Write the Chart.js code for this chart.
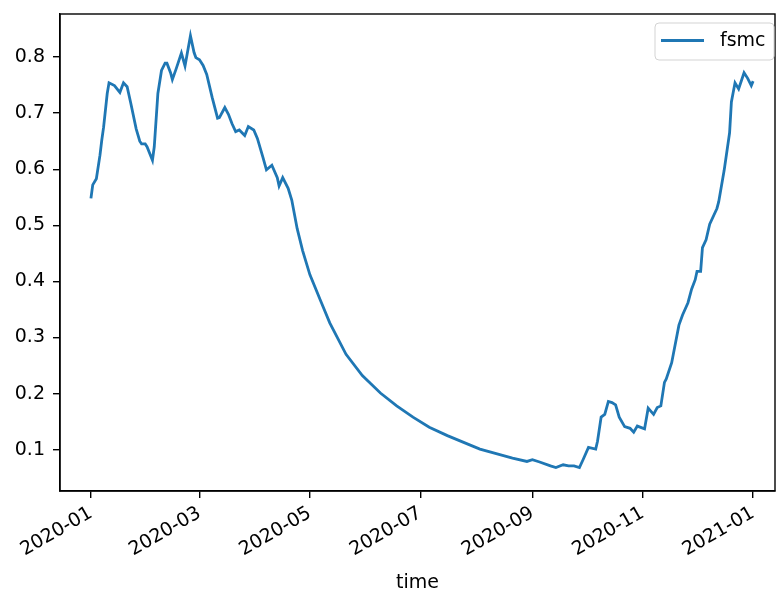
<!DOCTYPE html>
<html>
<head>
<meta charset="utf-8">
<script src="https://cdn.jsdelivr.net/npm/chart.js@4/dist/chart.umd.min.js"></script>
<style>
  html, body { margin: 0; padding: 0; background: #ffffff; }
  #wrap { width: 776px; height: 591px; }
</style>
</head>
<body>
<div id="wrap"><canvas id="c" width="776" height="591"></canvas></div>
<script>
// Observation dates and fuel moisture values (fsmc)
const dates = [
  '2020-01-01','2020-01-02','2020-01-04','2020-01-06','2020-01-07','2020-01-08','2020-01-10','2020-01-11',
  '2020-01-14','2020-01-17','2020-01-19','2020-01-21','2020-01-23','2020-01-26','2020-01-28','2020-01-29',
  '2020-01-31','2020-02-01','2020-02-04','2020-02-05','2020-02-07','2020-02-09','2020-02-11','2020-02-12',
  '2020-02-14','2020-02-15','2020-02-17','2020-02-20','2020-02-22','2020-02-25','2020-02-27','2020-02-28',
  '2020-03-01','2020-03-03','2020-03-05','2020-03-08','2020-03-11','2020-03-12','2020-03-15','2020-03-17',
  '2020-03-19','2020-03-21','2020-03-23','2020-03-26','2020-03-28','2020-03-31','2020-04-02','2020-04-05',
  '2020-04-07','2020-04-10','2020-04-13','2020-04-14','2020-04-16','2020-04-19','2020-04-21','2020-04-24',
  '2020-04-27','2020-05-01','2020-05-07','2020-05-12','2020-05-21','2020-05-30','2020-06-09','2020-06-18',
  '2020-06-27','2020-07-06','2020-07-16','2020-07-25','2020-08-03','2020-08-12','2020-08-21','2020-08-29',
  '2020-09-01','2020-09-05','2020-09-11','2020-09-14','2020-09-18','2020-09-21','2020-09-24','2020-09-27',
  '2020-09-29','2020-10-02','2020-10-06','2020-10-07','2020-10-09','2020-10-11','2020-10-13','2020-10-15',
  '2020-10-17','2020-10-19','2020-10-22','2020-10-25','2020-10-27','2020-10-29','2020-11-02','2020-11-04',
  '2020-11-07','2020-11-09','2020-11-11','2020-11-13','2020-11-14','2020-11-17','2020-11-21','2020-11-23',
  '2020-11-26','2020-11-28','2020-11-30','2020-12-01','2020-12-03','2020-12-04','2020-12-06','2020-12-08',
  '2020-12-12','2020-12-13','2020-12-16','2020-12-19','2020-12-20','2020-12-22','2020-12-24','2020-12-27',
  '2020-12-29','2020-12-31','2021-01-01'
];
const fsmc = [
  0.548,0.572,0.583,0.625,0.652,0.675,0.735,0.754,
  0.749,0.737,0.754,0.747,0.718,0.672,0.650,0.645,
  0.645,0.640,0.616,0.640,0.735,0.776,0.789,0.789,
  0.772,0.760,0.778,0.807,0.784,0.838,0.808,0.799,
  0.795,0.785,0.769,0.728,0.691,0.692,0.710,0.698,
  0.681,0.667,0.670,0.660,0.676,0.670,0.655,0.622,
  0.599,0.607,0.585,0.570,0.585,0.566,0.545,0.494,
  0.455,0.412,0.365,0.326,0.270,0.232,0.201,0.178,
  0.158,0.140,0.125,0.113,0.101,0.093,0.085,0.079,
  0.082,0.078,0.071,0.068,0.073,0.071,0.071,0.068,
  0.082,0.104,0.101,0.115,0.158,0.163,0.186,0.184,
  0.180,0.158,0.141,0.138,0.131,0.142,0.137,0.174,
  0.163,0.175,0.178,0.220,0.226,0.255,0.322,0.340,
  0.362,0.386,0.403,0.418,0.418,0.460,0.474,0.502,
  0.530,0.542,0.598,0.665,0.720,0.754,0.743,0.772,
  0.762,0.749,0.757
];
// Axis tick labels
const xTickLabels = ['2020-01','2020-03','2020-05','2020-07','2020-09','2020-11','2021-01'];
const yTickValues = [0.1,0.2,0.3,0.4,0.5,0.6,0.7,0.8];

const FONT = "'DejaVu Sans', 'Liberation Sans', sans-serif";
const T0 = Date.UTC(2020, 0, 1);
function dayOf(s) {
  const p = s.split('-').map(Number);
  return (Date.UTC(p[0], p[1] - 1, p[2] || 1) - T0) / 86400000;
}
const xTickDays = xTickLabels.map(dayOf);
const points = dates.map((d, i) => ({ x: dayOf(d), y: fsmc[i] }));

// Full box frame around the plot area
const frame = {
  id: 'frame',
  afterDatasetsDraw(chart) {
    const a = chart.chartArea, ctx = chart.ctx;
    ctx.save();
    ctx.strokeStyle = '#000';
    ctx.lineWidth = 1.4;
    ctx.strokeRect(a.left, a.top, a.right - a.left, a.bottom - a.top);
    ctx.restore();
  }
};

// Legend box in the upper right of the plot area
const legendBox = {
  id: 'legendBox',
  afterDraw(chart) {
    const ctx = chart.ctx;
    const a = chart.chartArea;
    const w = 119, h = 37;
    const x = a.right - w - 1, y = a.top + 9;
    ctx.save();
    ctx.beginPath();
    const r = 4;
    ctx.moveTo(x + r, y);
    ctx.lineTo(x + w - r, y); ctx.quadraticCurveTo(x + w, y, x + w, y + r);
    ctx.lineTo(x + w, y + h - r); ctx.quadraticCurveTo(x + w, y + h, x + w - r, y + h);
    ctx.lineTo(x + r, y + h); ctx.quadraticCurveTo(x, y + h, x, y + h - r);
    ctx.lineTo(x, y + r); ctx.quadraticCurveTo(x, y, x + r, y);
    ctx.closePath();
    ctx.fillStyle = 'rgba(255,255,255,0.8)';
    ctx.fill();
    ctx.strokeStyle = '#d3d3d3';
    ctx.lineWidth = 1;
    ctx.stroke();
    const cy = y + h / 2;
    ctx.strokeStyle = chart.data.datasets[0].borderColor;
    ctx.lineWidth = 2.8;
    ctx.beginPath();
    ctx.moveTo(x + 6, cy - 1);
    ctx.lineTo(x + 49, cy - 1);
    ctx.stroke();
    ctx.fillStyle = '#000';
    ctx.font = '19px ' + FONT;
    ctx.textBaseline = 'middle';
    ctx.textAlign = 'left';
    ctx.fillText(chart.data.datasets[0].label, x + 65, cy);
    ctx.restore();
  }
};

new Chart(document.getElementById('c'), {
  type: 'line',
  data: {
    datasets: [{
      label: 'fsmc',
      data: points,
      borderColor: '#1f77b4',
      borderWidth: 2.8,
      pointRadius: 0,
      tension: 0,
      fill: false
    }]
  },
  options: {
    responsive: false,
    animation: false,
    layout: { padding: { top: 14, right: 1, left: 0, bottom: 0 } },
    plugins: { legend: { display: false }, tooltip: { enabled: false } },
    scales: {
      x: {
        type: 'linear',
        min: -17.1,
        max: 378.1,
        afterBuildTicks(s) { s.ticks = xTickDays.map(v => ({ value: v })); },
        afterFit(s) { s.height = 100; s.paddingLeft = 0; s.paddingRight = 0; },
        ticks: {
          minRotation: 30,
          maxRotation: 30,
          autoSkip: false,
          padding: 4,
          color: '#000',
          font: { family: FONT, size: 19 },
          callback(v) { const i = xTickDays.indexOf(v); return i >= 0 ? xTickLabels[i] : ''; }
        },
        grid: { drawOnChartArea: false, drawTicks: true, tickLength: 7, color: '#000', lineWidth: 1.4 },
        border: { display: true, color: '#000', width: 1.4 },
        title: { display: true, text: 'time', color: '#000', font: { family: FONT, size: 19 }, padding: { top: 0, bottom: -3 } }
      },
      y: {
        type: 'linear',
        min: 0.0263,
        max: 0.8767,
        afterBuildTicks(s) { s.ticks = yTickValues.map(v => ({ value: v })); },
        afterFit(s) { s.width = 60; s.paddingTop = 0; s.paddingBottom = 0; },
        ticks: {
          padding: 8,
          color: '#000',
          font: { family: FONT, size: 19 },
          callback(v) { return v.toFixed(1); }
        },
        grid: { drawOnChartArea: false, drawTicks: true, tickLength: 7, color: '#000', lineWidth: 1.4 },
        border: { display: true, color: '#000', width: 1.4 }
      }
    }
  },
  plugins: [frame, legendBox]
});
</script>
</body>
</html>
